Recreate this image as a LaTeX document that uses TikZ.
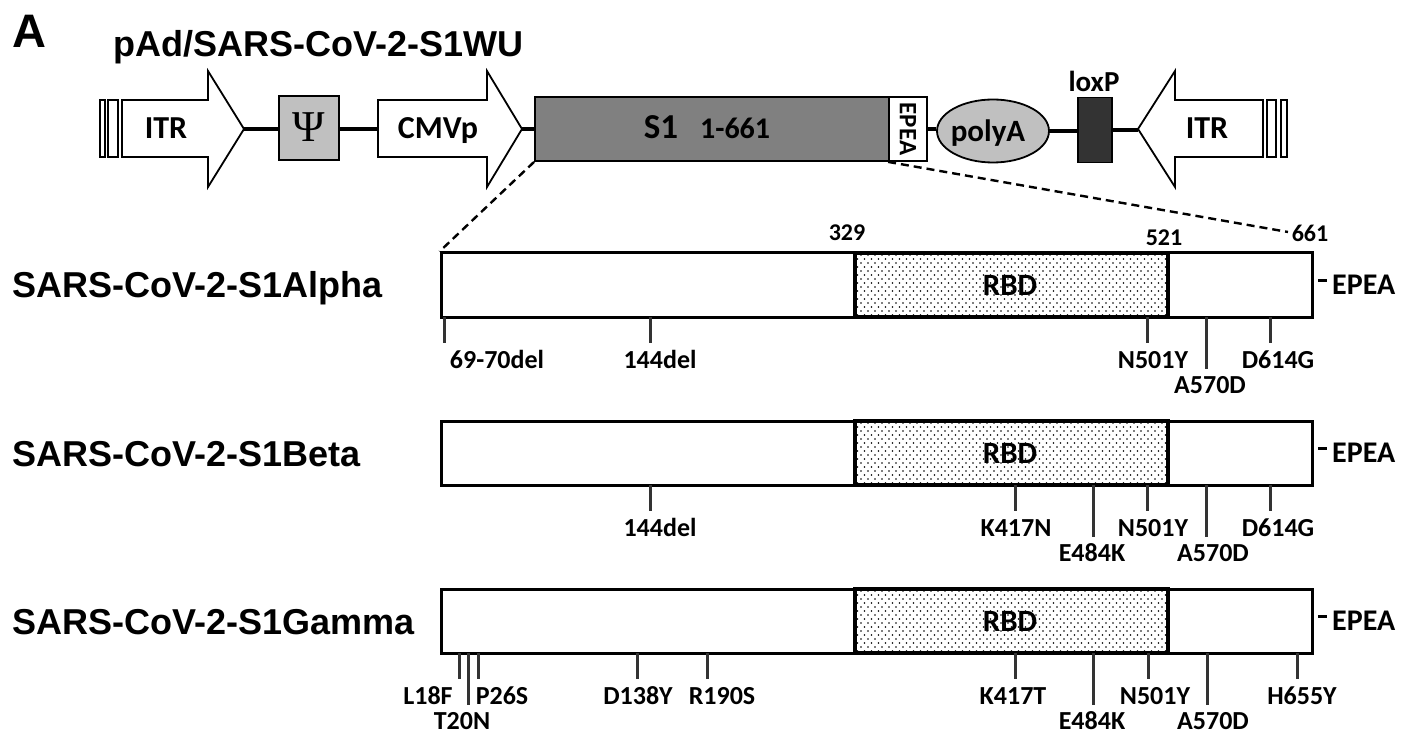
\documentclass[tikz,border=0pt]{standalone}
\usepackage{fontspec}
\setmainfont{Carlito}
\newfontfamily\arialfont{Liberation Sans}
\newfontfamily\timesfont{Liberation Serif}
\usetikzlibrary{patterns,shapes.geometric}
\pgfdeclarepatternformonly{rbddots}{\pgfqpoint{-1pt}{-1pt}}{\pgfqpoint{8pt}{9pt}}{\pgfqpoint{7pt}{8pt}}{%
  \pgfpathcircle{\pgfqpoint{0pt}{0pt}}{0.85pt}%
  \pgfpathcircle{\pgfqpoint{3.5pt}{4pt}}{0.85pt}%
  \pgfusepath{fill}}
\definecolor{sone}{HTML}{808080}
\definecolor{lgray}{HTML}{C0C0C0}
\definecolor{dgray}{HTML}{333333}
\definecolor{tickc}{HTML}{333333}

\newcommand\domainrow[3]{%
  \node[bar, minimum width=871pt, minimum height=64pt, inner sep=0pt] (#1) at (876.5,#2) {};
  \draw[rbd] (855,{#2-32}) rectangle (1168,{#2+32});
  \node[lbl=31, anchor=base] (#1-rbd) at (1010,{#2+10}) {RBD};
  \node[lbl=30, anchor=base west] (#1-epea) at (1318,{#2+9.5}) {\rule[12.5pt]{9pt}{2.8pt}\hspace{5pt}EPEA};
  \node[arial=36, anchor=base west] (#1-name) at (12,{#2+13}) {#3};
}
\newcommand\mutations[3]{%
  \foreach \bx/\lx/\lab/\lng in {#3} {
    \draw[tickmark] (\bx,#2) -- (\bx,{#2+26+26*\lng});
    \node[mut] (#1-\lab) at (\lx,{#2+51.5+25*\lng}) {\lab};
  }
}

\begin{document}
\begin{tikzpicture}[x=1pt,y=-1pt,
  lbl/.style={font=\bfseries\fontsize{#1}{#1}\selectfont, inner sep=0pt},
  arial/.style={font=\arialfont\bfseries\fontsize{#1}{#1}\selectfont, inner sep=0pt},
  shapeline/.style={draw=black, line width=1.8pt},
  link/.style={line width=4pt, black},
  dash line/.style={line width=2.4pt, dash pattern=on 8pt off 5pt},
  bar/.style={draw=black, line width=3pt, fill=white},
  rbd/.style={draw=black, line width=4pt, pattern=rbddots},
  tickmark/.style={draw=tickc, line width=3pt},
  mut/.style={lbl=26, anchor=base},
]
\useasboundingbox (0,0) rectangle (1402,735);

% titles
\node[arial=47, anchor=base west] (panel) at (12,48) {A};
\node[arial=36, anchor=base west] (title) at (113,57) {pAd/SARS-CoV-2-S1WU};

\coordinate (itrLtip) at (244,129);
\coordinate (cmvL) at (378,129);
\coordinate (cmvtip) at (522,129);
\coordinate (itrRtip) at (1138,129);

% left ITR
\draw[shapeline, fill=white] (100,100) rectangle (105,157);
\draw[shapeline, fill=white] (108,100) rectangle (118,157);
\draw[shapeline, fill=white] (122,100) -- (208,100) -- (208,71) -- (itrLtip) -- (208,187) -- (208,157) -- (122,157) -- cycle;
\node[lbl=32, anchor=base] (itrL) at (166,139) {ITR};

% Psi
\node[shapeline, fill=lgray, minimum width=60pt, minimum height=64pt, inner sep=0pt] (psi) at (309,128) {};
\node[inner sep=0pt, font=\timesfont\fontsize{44}{44}\selectfont] (psitxt) at (309,127) {Ψ};

% CMVp
\draw[shapeline, fill=white] (cmvL |- 0,100) -- (487,100) -- (487,71) -- (cmvtip) -- (487,187) -- (487,157) -- (378,157) -- cycle;
\node[lbl=32, anchor=base] (cmv) at (438,139) {CMVp};

% S1
\node[shapeline, fill=sone, minimum width=354pt, minimum height=64pt, inner sep=0pt] (s1) at (712,129) {};
\node[anchor=base, inner sep=0pt] (s1txt) at (707,139) {\bfseries\fontsize{35}{35}\selectfont S1\hspace{22pt}\fontsize{30}{30}\selectfont 1-661};

% EPEA
\node[shapeline, fill=white, minimum width=38pt, minimum height=64pt, inner sep=0pt] (epea) at (908,129) {};
\node[lbl=25, rotate=-90] (epeatxt) at (epea.center) {EPEA};

% polyA
\node[shapeline, ellipse, fill=lgray, minimum width=112pt, minimum height=63pt, inner sep=0pt] (polya) at (993,131) {};
\node[lbl=31, anchor=base] (polyatxt) at (988,142) {polyA};

% loxP
\node[shapeline, fill=dgray, minimum width=34pt, minimum height=65pt, inner sep=0pt] (loxp) at (1095,130) {};
\node[lbl=29, anchor=base] (loxptxt) at (1094,92) {loxP};

% right ITR
\draw[shapeline, fill=white] (1263,100) -- (1175,100) -- (1175,71) -- (itrRtip) -- (1175,187) -- (1175,157) -- (1263,157) -- cycle;
\draw[shapeline, fill=white] (1267,100) rectangle (1276,157);
\draw[shapeline, fill=white] (1281,100) rectangle (1287,157);
\node[lbl=32, anchor=base] (itrR) at (1207,139) {ITR};

% connecting lines
\draw[link] (itrLtip) -- (psi.west |- itrLtip);
\draw[link] (psi.east |- cmvL) -- (cmvL);
\draw[link] (cmvtip) -- (s1.west |- cmvtip);
\draw[link] (epea.east) -- (epea.east -| polya.west);
\draw[link] (polya.east) -- (polya.east -| loxp.west);
\draw[link] (loxp.east) -- (loxp.east -| itrRtip);

% domain rows
\domainrow{alpha}{285}{SARS-CoV-2-S1Alpha}
\domainrow{beta}{453}{SARS-CoV-2-S1Beta}
\domainrow{gamma}{621}{SARS-CoV-2-S1Gamma}

% zoom lines
\coordinate (zoomR) at (1288,232);
\draw[dash line] (s1.south west) -- (alpha.north west);
\draw[dash line] (epea.south west) -- (zoomR);

% positions
\node[lbl=24, anchor=base] (p329) at (847,241) {329};
\node[lbl=24, anchor=base] (p521) at (1164,246) {521};
\node[lbl=24, anchor=base] (p661) at (1310,242) {661};

% mutations
\mutations{a}{317}{444/497/69-70del/0, 650/660/144del/0, 1147/1153/N501Y/0, 1206/1210/A570D/1, 1270/1278/D614G/0}
\mutations{b}{485}{650/660/144del/0, 1015/1016/K417N/0, 1093/1092/E484K/1, 1147/1153/N501Y/0, 1206/1213/A570D/1, 1270/1278/D614G/0}
\mutations{g}{653}{459/428/L18F/0, 468/462/T20N/1, 478/502/P26S/0, 637/638/D138Y/0, 707/722/R190S/0, 1015/1013/K417T/0, 1093/1092/E484K/1, 1148/1155/N501Y/0, 1207/1213/A570D/1, 1297/1302/H655Y/0}
\end{tikzpicture}
\end{document}
